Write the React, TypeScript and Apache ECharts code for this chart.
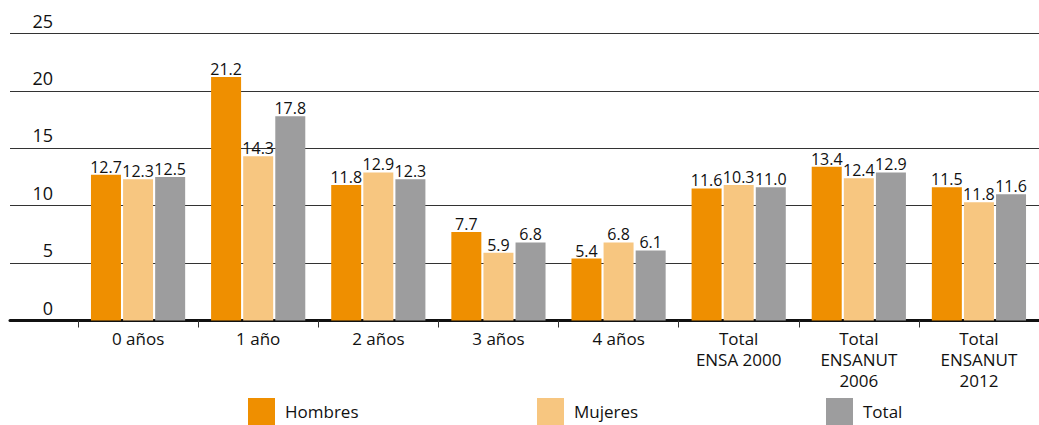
import React, { useEffect, useRef } from "react";
import * as echarts from "echarts";

const categories = ["0 años", "1 año", "2 años", "3 años", "4 años", "Total\nENSA 2000", "Total\nENSANUT\n2006", "Total\nENSANUT\n2012"];
const seriesNames = ["Hombres", "Mujeres", "Total"];
// bar heights as drawn
const hombres = [12.7, 21.2, 11.8, 7.7, 5.4, 11.5, 13.4, 11.6];
const mujeres = [12.3, 14.3, 12.9, 5.9, 6.8, 11.8, 12.4, 10.3];
const total = [12.5, 17.8, 12.3, 6.8, 6.1, 11.6, 12.9, 11.0];
// value labels as printed
const hombresLabels = ["12.7", "21.2", "11.8", "7.7", "5.4", "11.6", "13.4", "11.5"];
const mujeresLabels = ["12.3", "14.3", "12.9", "5.9", "6.8", "10.3", "12.4", "11.8"];
const totalLabels = ["12.5", "17.8", "12.3", "6.8", "6.1", "11.0", "12.9", "11.6"];
const colors = ["#ef8f00", "#f7c680", "#9d9d9e"];

const FONT = "'Open Sans', sans-serif";
const TXT = "#111111";

export default function App() {
  const ref = useRef<HTMLDivElement>(null);
  useEffect(() => {
    document.body.style.margin = "0";
    const chart = echarts.init(ref.current!, null, { renderer: "svg" });
    const values = [hombres, mujeres, total];
    const labels = [hombresLabels, mujeresLabels, totalLabels];
    const legendLeft = [248, 537, 826];
    chart.setOption({
      animation: false,
      textStyle: { fontFamily: FONT, color: TXT },
      grid: [
        { left: 10, right: 0, top: 33.5, bottom: 104.5 },
        { left: 78, width: 973, top: 33.5, bottom: 104.5 },
      ],
      xAxis: [
        {
          type: "value",
          gridIndex: 0,
          min: 0,
          max: 1,
          axisLine: { show: true, onZero: false, lineStyle: { color: "#111", width: 3 } },
          axisTick: { show: false },
          axisLabel: { show: false },
          splitLine: { show: false },
        },
        {
          type: "category",
          gridIndex: 1,
          data: categories,
          axisLine: { show: false },
          axisTick: { show: true, length: 7, lineStyle: { color: "#333", width: 1 } },
          axisLabel: {
            fontFamily: FONT,
            fontSize: 17,
            color: TXT,
            lineHeight: 21,
            margin: 7,
            interval: 0,
          },
        },
      ],
      yAxis: [
        {
          type: "value",
          gridIndex: 0,
          min: 0,
          max: 25,
          interval: 5,
          axisLine: { show: false },
          axisTick: { show: false },
          axisLabel: {
            fontFamily: FONT,
            fontSize: 18,
            color: TXT,
            align: "right",
            verticalAlign: "bottom",
            margin: -43,
            padding: [0, 0, 4, 0],
          },
          splitLine: { show: true, lineStyle: { color: "#333", width: 1 } },
        },
        {
          type: "value",
          gridIndex: 1,
          min: 0,
          max: 25,
          interval: 5,
          show: false,
        },
      ],
      legend: seriesNames.map((n, i) => ({
        data: [n],
        left: legendLeft[i],
        top: 398,
        padding: 0,
        itemWidth: 27,
        itemHeight: 27,
        icon: "rect",
        textStyle: { fontFamily: FONT, fontSize: 17, color: TXT, lineHeight: 20, padding: [2, 0, 0, 5] },
      })),
      series: seriesNames.map((n, i) => ({
        name: n,
        type: "bar",
        xAxisIndex: 1,
        yAxisIndex: 1,
        data: values[i],
        barWidth: 30,
        barGap: "7%",
        itemStyle: { color: colors[i] },
        label: {
          show: true,
          position: "top",
          distance: 0,
          fontFamily: FONT,
          fontSize: 16,
          color: TXT,
          formatter: (p: any) => labels[i][p.dataIndex],
        },
      })),
    });
    return () => chart.dispose();
  }, []);
  return <div ref={ref} style={{ width: 1039, height: 425 }} />;
}
